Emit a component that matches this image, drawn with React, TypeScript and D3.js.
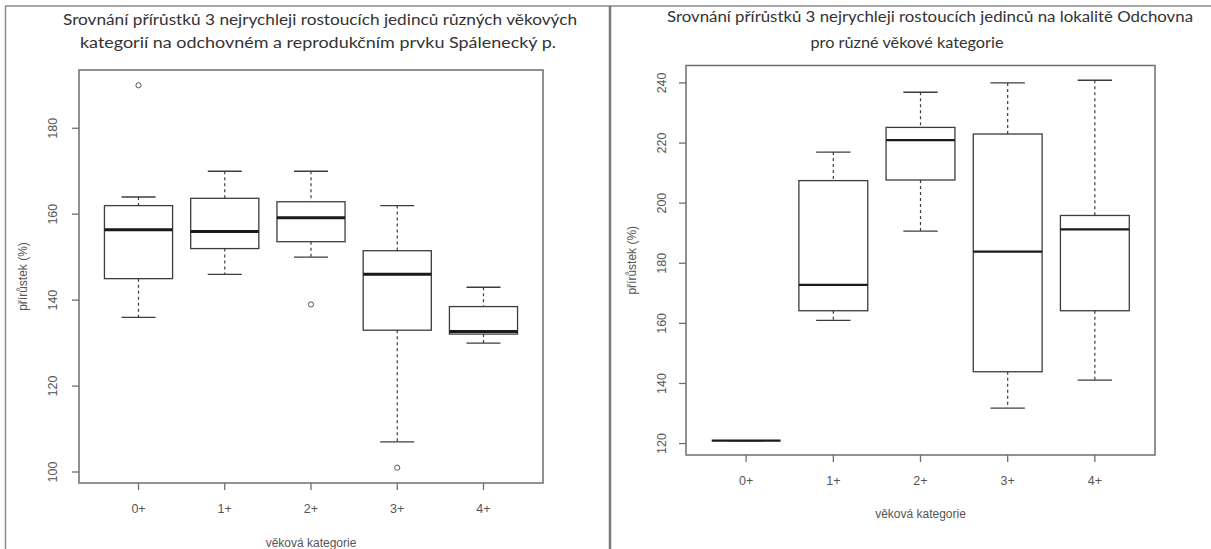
import React from "react";
import * as d3 from "d3";

const categories = ["0+", "1+", "2+", "3+", "4+"];

// levý graf – Spálenecký p.
const leftLower = [136, 146, 150, 107, 130];
const leftQ1 = [145, 152, 153.6, 133, 132.1];
const leftMedian = [156.4, 156, 159.2, 146, 132.7];
const leftQ3 = [162, 163.7, 162.9, 151.5, 138.5];
const leftUpper = [164, 170, 170, 162, 143];
const leftOutliers = [
  { cat: "0+", value: 190 },
  { cat: "2+", value: 139 },
  { cat: "3+", value: 101 },
];
const leftTicks = [100, 120, 140, 160, 180];

// pravý graf – Odchovna
const rightLower = [121, 161, 190.7, 131.8, 141.1];
const rightQ1 = [121, 164.2, 207.7, 143.9, 164.2];
const rightMedian = [121, 172.8, 221, 183.9, 191.3];
const rightQ3 = [121, 207.5, 225.2, 223, 195.9];
const rightUpper = [121, 217, 236.9, 240, 240.9];
const rightTicks = [120, 140, 160, 180, 200, 220, 240];

const leftTitle = [
  "Srovnání přírůstků 3 nejrychleji rostoucích jedinců různých věkových",
  "kategorií na odchovném a reprodukčním prvku Spálenecký p.",
];
const rightTitle = [
  "Srovnání přírůstků 3 nejrychleji rostoucích jedinců na lokalitě Odchovna",
  "pro různé věkové kategorie",
];

const axisFont = "'Liberation Sans', Arial, sans-serif";
const titleFont = "Lato, 'Open Sans', sans-serif";

interface PanelProps {
  plot: { left: number; right: number; top: number; bottom: number };
  domain: [number, number];
  ticks: number[];
  lower: number[];
  q1: number[];
  median: number[];
  q3: number[];
  upper: number[];
  outliers: { cat: string; value: number }[];
  title: string[];
  titleX: number[];
  titleY: number[];
  titleW: number[];
  yLabelX: number;
  yTickX: number;
  xTickY: number;
  xTitleY: number;
  medianWidth: number;
}

const BoxPanel: React.FC<PanelProps> = (p) => {
  const x = d3
    .scalePoint<string>()
    .domain(categories)
    .range([p.plot.left, p.plot.right])
    .padding(0.69);
  const y = d3.scaleLinear().domain(p.domain).range([p.plot.bottom, p.plot.top]);
  const step = x.step();
  const half = step * 0.395;
  const cap = step * 0.197;
  const midY = (p.plot.top + p.plot.bottom) / 2;
  const midX = (p.plot.left + p.plot.right) / 2;

  return (
    <g>
      {p.title.map((t, i) => (
        <text
          key={i}
          x={p.titleX[i]}
          y={p.titleY[i]}
          textAnchor="middle"
          fontFamily={titleFont}
          fontSize={15.5}
          textLength={p.titleW[i]}
          lengthAdjust="spacingAndGlyphs"
          fill="#333"
        >
          {t}
        </text>
      ))}
      <rect
        x={p.plot.left}
        y={p.plot.top}
        width={p.plot.right - p.plot.left}
        height={p.plot.bottom - p.plot.top}
        fill="none"
        stroke="#6e6e6e"
        strokeWidth={1.5}
      />
      {/* osa y */}
      {p.ticks.map((t) => (
        <g key={t}>
          <line
            x1={p.plot.left - 7}
            x2={p.plot.left}
            y1={y(t)}
            y2={y(t)}
            stroke="#6e6e6e"
            strokeWidth={1.3}
          />
          <text
            transform={`translate(${p.yTickX},${y(t)}) rotate(-90)`}
            textAnchor="middle"
            dominantBaseline="central"
            fontFamily={axisFont}
            fontSize={12.5}
            fill="#555"
          >
            {t}
          </text>
        </g>
      ))}
      {/* osa x */}
      {categories.map((c) => (
        <g key={c}>
          <line
            x1={x(c)}
            x2={x(c)}
            y1={p.plot.bottom}
            y2={p.plot.bottom + 7}
            stroke="#6e6e6e"
            strokeWidth={1.3}
          />
          <text
            x={x(c)}
            y={p.xTickY}
            textAnchor="middle"
            dominantBaseline="central"
            fontFamily={axisFont}
            fontSize={12.5}
            fill="#555"
          >
            {c}
          </text>
        </g>
      ))}
      <text
        transform={`translate(${p.yLabelX},${midY}) rotate(-90)`}
        textAnchor="middle"
        dominantBaseline="central"
        fontFamily={axisFont}
        fontSize={12}
        fill="#555"
      >
        přírůstek (%)
      </text>
      <text
        x={midX}
        y={p.xTitleY}
        textAnchor="middle"
        dominantBaseline="central"
        fontFamily={axisFont}
        fontSize={12}
        fill="#555"
      >
        věková kategorie
      </text>
      {/* krabicové grafy */}
      {categories.map((c, i) => {
        const cx = x(c) as number;
        return (
          <g key={c} stroke="#3c3c3c" fill="none">
            <line x1={cx} x2={cx} y1={y(p.upper[i])} y2={y(p.q3[i])} strokeDasharray="3,3" strokeWidth={1.2} />
            <line x1={cx} x2={cx} y1={y(p.q1[i])} y2={y(p.lower[i])} strokeDasharray="3,3" strokeWidth={1.2} />
            <line x1={cx - cap} x2={cx + cap} y1={y(p.upper[i])} y2={y(p.upper[i])} strokeWidth={1.3} />
            <line x1={cx - cap} x2={cx + cap} y1={y(p.lower[i])} y2={y(p.lower[i])} strokeWidth={1.3} />
            <rect
              x={cx - half}
              y={y(p.q3[i])}
              width={half * 2}
              height={y(p.q1[i]) - y(p.q3[i])}
              fill="#fff"
              strokeWidth={1.3}
            />
            <line
              x1={cx - half}
              x2={cx + half}
              y1={y(p.median[i])}
              y2={y(p.median[i])}
              stroke="#1a1a1a"
              strokeWidth={p.medianWidth}
            />
          </g>
        );
      })}
      {p.outliers.map((o, i) => (
        <circle
          key={i}
          cx={x(o.cat)}
          cy={y(o.value)}
          r={2.6}
          fill="none"
          stroke="#555"
          strokeWidth={1}
        />
      ))}
    </g>
  );
};

const App: React.FC = () => {
  return (
    <div style={{ position: "absolute", left: 0, top: 0 }}>
      <svg width={1211} height={549} style={{ display: "block", background: "#fff" }}>
        {/* rámeček tabulky */}
        <line x1={5} x2={1211} y1={6} y2={6} stroke="#8a8a8a" strokeWidth={1.5} />
        <line x1={5.5} x2={5.5} y1={6} y2={549} stroke="#8a8a8a" strokeWidth={1.5} />
        <line x1={610} x2={610} y1={6} y2={549} stroke="#7a7a7a" strokeWidth={2.5} />
        <BoxPanel
          plot={{ left: 79, right: 543, top: 70, bottom: 483 }}
          domain={[97.44, 193.56]}
          ticks={leftTicks}
          lower={leftLower}
          q1={leftQ1}
          median={leftMedian}
          q3={leftQ3}
          upper={leftUpper}
          outliers={leftOutliers}
          title={leftTitle}
          titleX={[320, 318]}
          titleY={[25, 48]}
          titleW={[514, 476]}
          yLabelX={23}
          yTickX={53}
          xTickY={509}
          xTitleY={543}
          medianWidth={3}
        />
        <BoxPanel
          plot={{ left: 686, right: 1155, top: 65.5, bottom: 455 }}
          domain={[116.2, 245.8]}
          ticks={rightTicks}
          lower={rightLower}
          q1={rightQ1}
          median={rightMedian}
          q3={rightQ3}
          upper={rightUpper}
          outliers={[]}
          title={rightTitle}
          titleX={[930, 907]}
          titleY={[22, 48]}
          titleW={[526, 193]}
          yLabelX={632}
          yTickX={662}
          xTickY={481}
          xTitleY={514}
          medianWidth={2.2}
        />
      </svg>
    </div>
  );
};

export default App;
